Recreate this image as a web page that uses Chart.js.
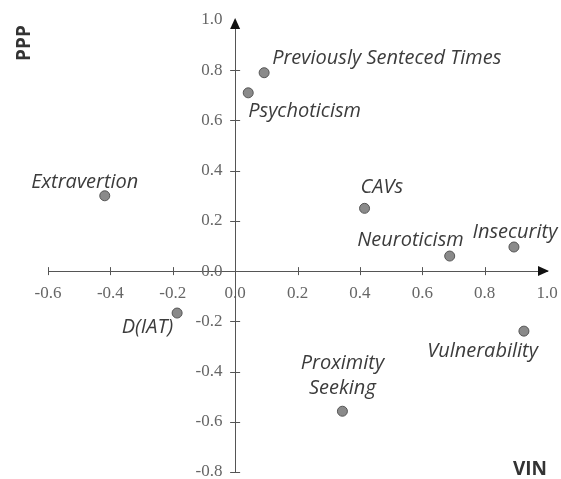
<!DOCTYPE html>
<html>
<head>
<meta charset="utf-8">
<script src="https://cdn.jsdelivr.net/npm/chart.js@4/dist/chart.umd.min.js"></script>
<style>
  body { margin: 0; background: #fff; }
  #wrap { width: 561px; height: 479px; position: relative; }
</style>
</head>
<body>
<div id="wrap"><canvas id="chart"></canvas></div>
<script>
const names = ['Previously Senteced Times', 'Psychoticism', 'Extravertion', 'CAVs', 'Neuroticism',
  'Insecurity', 'Vulnerability', 'D(IAT)', 'Proximity Seeking'];
const vinValues = [0.093, 0.042, -0.418, 0.415, 0.688, 0.894, 0.926, -0.186, 0.344];
const pppValues = [0.79, 0.71, 0.30, 0.25, 0.06, 0.096, -0.239, -0.167, -0.558];
const xTicks = [-0.6, -0.4, -0.2, 0.0, 0.2, 0.4, 0.6, 0.8, 1.0];
const yTicks = [-0.8, -0.6, -0.4, -0.2, 0.0, 0.2, 0.4, 0.6, 0.8, 1.0];

// label placement relative to each point: [dx, dy, align]
const labelPlace = [
  [8, -14, 'left'],
  [0, 18, 'left'],
  [-20, -13, 'center'],
  [-4, -21, 'left'],
  [14, -16, 'right'],
  [1, -15, 'center'],
  [14, 20, 'right'],
  [-4, 14, 'right'],
  [0, -48, 'center'],
];

const axisColor = '#555';

const decorations = {
  id: 'decorations',
  afterDatasetsDraw(c) {
    const ctx = c.ctx;
    const xs = c.scales.x, ys = c.scales.y;
    const x0 = xs.getPixelForValue(0), y0 = ys.getPixelForValue(0);
    ctx.save();
    ctx.strokeStyle = axisColor;
    ctx.lineWidth = 1;
    // cross tick marks
    xTicks.forEach(v => {
      if (v === 0 || v === 1.0) return;
      const px = Math.round(xs.getPixelForValue(v)) + 0.5;
      ctx.beginPath(); ctx.moveTo(px, y0 - 4); ctx.lineTo(px, y0 + 4); ctx.stroke();
    });
    yTicks.forEach(v => {
      if (v === 0 || v === 1.0) return;
      const py = Math.round(ys.getPixelForValue(v)) + 0.5;
      ctx.beginPath(); ctx.moveTo(x0 - 5, py); ctx.lineTo(x0 + 5, py); ctx.stroke();
    });
    // arrows
    ctx.fillStyle = '#111';
    const xe = xs.getPixelForValue(1.0), ye = ys.getPixelForValue(1.0);
    ctx.beginPath(); ctx.moveTo(xe + 2, y0); ctx.lineTo(xe - 9, y0 - 5); ctx.lineTo(xe - 9, y0 + 5); ctx.closePath(); ctx.fill();
    ctx.beginPath(); ctx.moveTo(x0, ye - 2); ctx.lineTo(x0 - 5, ye + 9); ctx.lineTo(x0 + 5, ye + 9); ctx.closePath(); ctx.fill();
    // point labels
    ctx.font = 'italic 20px "Open Sans"';
    ctx.fillStyle = '#3c3c3c';
    ctx.textBaseline = 'middle';
    const meta = c.getDatasetMeta(0);
    meta.data.forEach((pt, i) => {
      const [dx, dy, align] = labelPlace[i];
      ctx.textAlign = align;
      const lines = names[i] === 'Proximity Seeking' ? ['Proximity', 'Seeking'] : [names[i]];
      lines.forEach((w, k) => ctx.fillText(w, pt.x + dx, pt.y + dy + k * 25));
    });
    // axis titles
    ctx.font = 'bold 19px "Open Sans"';
    ctx.fillStyle = '#333';
    ctx.textAlign = 'center';
    ctx.fillText('VIN', 530, 470);
    ctx.translate(25, 43);
    ctx.rotate(-Math.PI / 2);
    ctx.fillText('PPP', 0, 0);
    ctx.restore();
  }
};

new Chart(document.getElementById('chart'), {
  type: 'scatter',
  data: {
    datasets: [{
      data: vinValues.map((v, i) => ({ x: v, y: pppValues[i] })),
      backgroundColor: '#8a8a8a',
      borderColor: '#555',
      borderWidth: 1,
      pointRadius: 5,
      pointHoverRadius: 5,
    }],
  },
  options: {
    responsive: true,
    maintainAspectRatio: false,
    animation: false,
    layout: { padding: { left: 48, right: 14, top: 20, bottom: 7 } },
    plugins: { legend: { display: false }, tooltip: { enabled: false } },
    scales: {
      x: {
        type: 'linear',
        min: -0.6, max: 1.0,
        position: { y: 0 },
        afterBuildTicks: s => { s.ticks = xTicks.map(v => ({ value: v })); },
        // centred axis: take no room from the layout
        afterFit: s => { s.height = 0; s.paddingLeft = 0; s.paddingRight = 0; },
        grid: { display: false, drawTicks: false },
        border: { display: true, color: axisColor, width: 1 },
        ticks: {
          padding: 12,
          color: '#666',
          font: { family: 'Liberation Serif', size: 17 },
          callback: v => v.toFixed(1),
        },
      },
      y: {
        type: 'linear',
        min: -0.8, max: 1.0,
        position: { x: 0 },
        afterBuildTicks: s => { s.ticks = yTicks.map(v => ({ value: v })); },
        afterFit: s => { s.width = 0; s.paddingTop = 0; s.paddingBottom = 0; },
        grid: { display: false, drawTicks: false },
        border: { display: true, color: axisColor, width: 1 },
        ticks: {
          color: '#666',
          font: { family: 'Liberation Serif', size: 17 },
          // centred axis ignores tick padding, so pad with trailing spaces
          callback: v => v.toFixed(1) + '   ',
        },
      },
    },
  },
  plugins: [decorations],
});
</script>
</body>
</html>
